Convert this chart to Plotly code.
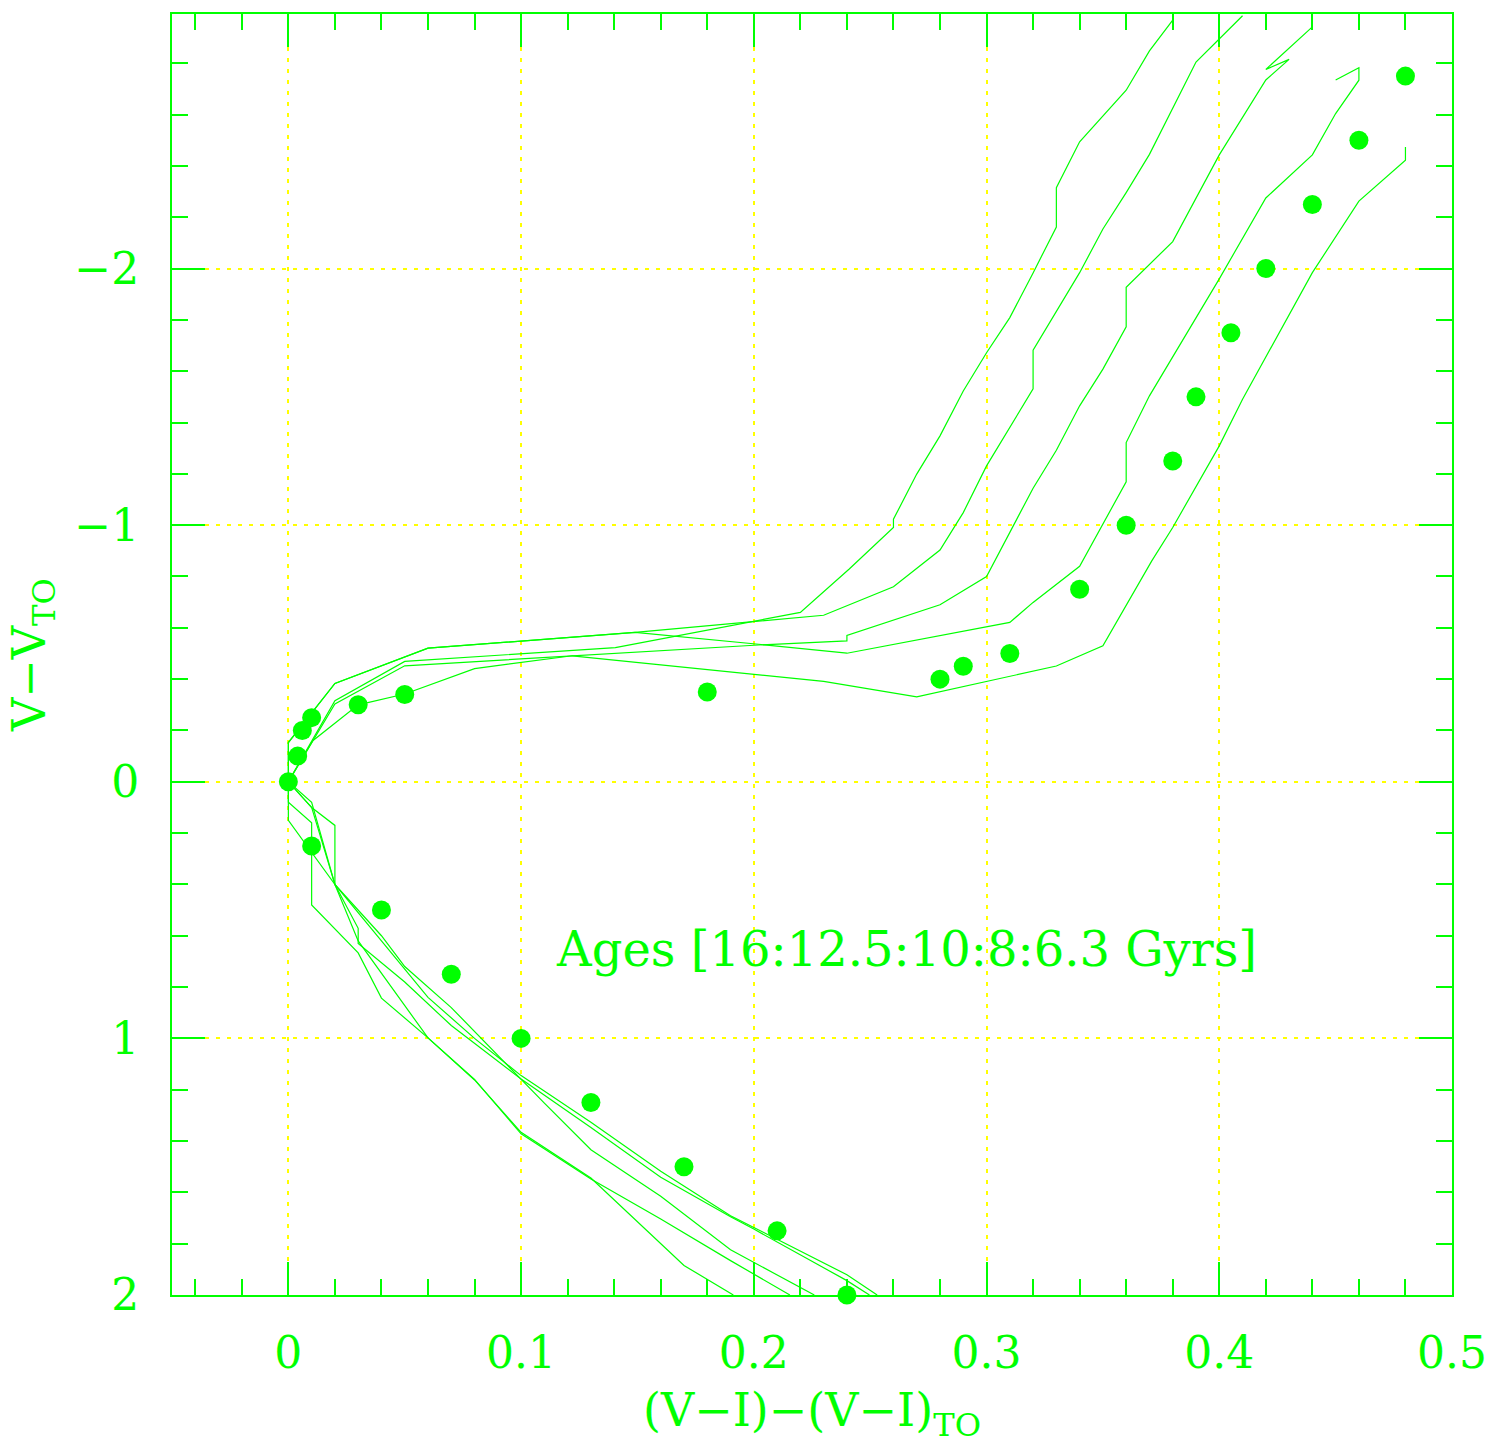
import plotly.graph_objects as go

# Observed fiducial points (colour offset, magnitude offset)
obs_color = [0.0, 0.004, 0.006, 0.01, 0.03, 0.05, 0.18, 0.28, 0.29, 0.31, 0.34, 0.36,
             0.38, 0.39, 0.405, 0.42, 0.44, 0.46, 0.48,
             0.01, 0.04, 0.07, 0.10, 0.13, 0.17, 0.21, 0.24]
obs_mag = [0.0, -0.10, -0.20, -0.25, -0.30, -0.34, -0.35, -0.40, -0.45, -0.50, -0.75, -1.00,
           -1.25, -1.50, -1.75, -2.00, -2.25, -2.50, -2.75,
           0.25, 0.50, 0.75, 1.00, 1.25, 1.50, 1.75, 2.00]

# Isochrones
iso16_color = [0.1912, 0.17, 0.13, 0.10, 0.08, 0.06, 0.04, 0.03, 0.01, 0.01, 0.0, 0.0,
               0.02, 0.05, 0.1405, 0.206, 0.220, 0.241, 0.260, 0.260, 0.270, 0.280, 0.290,
               0.300, 0.310, 0.320, 0.330, 0.330, 0.340, 0.360, 0.370, 0.380]
iso16_mag = [2.0, 1.885, 1.544, 1.366, 1.162, 0.998, 0.843, 0.667, 0.48, 0.16, 0.08, 0.0,
             -0.316, -0.469, -0.523, -0.634, -0.660, -0.829, -0.991, -1.023, -1.199, -1.348, -1.523,
             -1.672, -1.809, -1.983, -2.162, -2.315, -2.494, -2.695, -2.848, -2.968]

iso125_color = [0.2155, 0.19, 0.16, 0.13, 0.10, 0.08, 0.06, 0.03, 0.02, 0.0, 0.0,
                0.0, 0.02, 0.06, 0.149, 0.230, 0.260, 0.280, 0.290, 0.300, 0.320, 0.320,
                0.340, 0.350, 0.360, 0.370, 0.390, 0.410]
iso125_mag = [2.0, 1.866, 1.704, 1.548, 1.372, 1.16, 0.998, 0.62, 0.40, 0.15, 0.0,
              -0.153, -0.383, -0.521, -0.582, -0.649, -0.760, -0.903, -1.049, -1.231, -1.531, -1.682,
              -1.984, -2.154, -2.296, -2.445, -2.805, -2.985]

iso10_color = [0.226, 0.20, 0.19, 0.16, 0.13, 0.11, 0.08, 0.07, 0.05, 0.04, 0.02, 0.02, 0.01, 0.0,
               0.02, 0.05, 0.202, 0.240, 0.240, 0.280, 0.300, 0.320, 0.330, 0.340, 0.350, 0.360,
               0.360, 0.380, 0.400, 0.420, 0.430, 0.420, 0.440]
iso10_mag = [2.0, 1.873, 1.824, 1.615, 1.434, 1.252, 0.97, 0.88, 0.72, 0.60, 0.40, 0.17, 0.10, 0.0,
             -0.303, -0.452, -0.533, -0.549, -0.570, -0.690, -0.800, -1.144, -1.292, -1.465, -1.608, -1.773,
             -1.927, -2.105, -2.443, -2.735, -2.815, -2.776, -2.942]

iso8_color = [0.2497, 0.24, 0.20, 0.19, 0.16, 0.13, 0.10, 0.07, 0.05, 0.03, 0.03, 0.02, 0.01, 0.0,
              0.0, 0.02, 0.06, 0.149, 0.202, 0.240, 0.310, 0.320, 0.340, 0.360, 0.360, 0.370,
              0.400, 0.420, 0.440, 0.450, 0.460, 0.460, 0.450]
iso8_mag = [2.0, 1.944, 1.743, 1.695, 1.541, 1.347, 1.158, 0.95, 0.78, 0.63, 0.571, 0.40, 0.08, 0.0,
            -0.153, -0.383, -0.521, -0.582, -0.536, -0.501, -0.621, -0.699, -0.840, -1.169, -1.322, -1.504,
            -1.960, -2.275, -2.443, -2.604, -2.734, -2.783, -2.735]

iso63_color = [0.253, 0.24, 0.19, 0.16, 0.13, 0.10, 0.08, 0.06, 0.04, 0.02, 0.01, 0.0,
               0.0105, 0.03, 0.05, 0.08, 0.122, 0.202, 0.230, 0.270, 0.330, 0.350, 0.371, 0.380,
               0.400, 0.410, 0.440, 0.460, 0.480, 0.480]
iso63_mag = [2.0, 1.921, 1.691, 1.518, 1.327, 1.145, 1.0, 0.84, 0.62, 0.40, 0.10, 0.0,
             -0.16, -0.30, -0.342, -0.441, -0.491, -0.416, -0.391, -0.331, -0.451, -0.530, -0.861, -0.991,
             -1.309, -1.491, -1.984, -2.263, -2.422, -2.474]

isochrones = [
    ("16 Gyr", iso16_color, iso16_mag),
    ("12.5 Gyr", iso125_color, iso125_mag),
    ("10 Gyr", iso10_color, iso10_mag),
    ("8 Gyr", iso8_color, iso8_mag),
    ("6.3 Gyr", iso63_color, iso63_mag),
]

GREEN = "#00ff00"
YELLOW = "#ffff00"
FONT = "DejaVu Serif"

fig = go.Figure()
for name, cx, my in isochrones:
    fig.add_trace(go.Scatter(x=cx, y=my, mode="lines", name=name,
                             line=dict(color=GREEN, width=1.2), showlegend=False))

fig.add_trace(go.Scatter(x=obs_color, y=obs_mag, mode="markers", name="observed",
                         marker=dict(color=GREEN, size=19, line=dict(width=0)),
                         cliponaxis=False, showlegend=False))

fig.add_annotation(x=0.2655, y=0.65, xref="x", yref="y",
                   text="Ages [16:12.5:10:8:6.3 Gyrs]", showarrow=False,
                   font=dict(family=FONT, size=48, color=GREEN))

axis_common = dict(
    showline=True, linecolor=GREEN, linewidth=2, mirror="allticks",
    ticks="inside", ticklen=33, tickwidth=1.5, tickcolor=GREEN,
    showgrid=True, gridcolor=YELLOW, gridwidth=1.5, griddash="4px,7px",
    zeroline=False,
    tickfont=dict(family=FONT, size=44, color=GREEN),
)

fig.update_xaxes(
    range=[-0.05, 0.5], dtick=0.1, tick0=0,
    minor=dict(dtick=0.02, tick0=0, ticklen=16, tickwidth=1.5, tickcolor=GREEN,
               ticks="inside", showgrid=False),
    title=dict(text="(V−I)−(V−I)<sub>TO</sub>", standoff=18,
               font=dict(family=FONT, size=46, color=GREEN)),
    ticklabelstandoff=18,
    **axis_common,
)
fig.update_yaxes(
    range=[2.0, -2.992], dtick=1, tick0=0,
    minor=dict(dtick=0.2, tick0=0, ticklen=16, tickwidth=1.5, tickcolor=GREEN,
               ticks="inside", showgrid=False),
    title=dict(text="V−V<sub>TO</sub>", standoff=14,
               font=dict(family=FONT, size=46, color=GREEN)),
    ticklabelstandoff=22,
    **axis_common,
)

fig.update_layout(
    width=1499, height=1444,
    margin=dict(l=172, r=43, t=12, b=149),
    plot_bgcolor="white", paper_bgcolor="white",
    showlegend=False,
)

fig.write_html("out.html")
